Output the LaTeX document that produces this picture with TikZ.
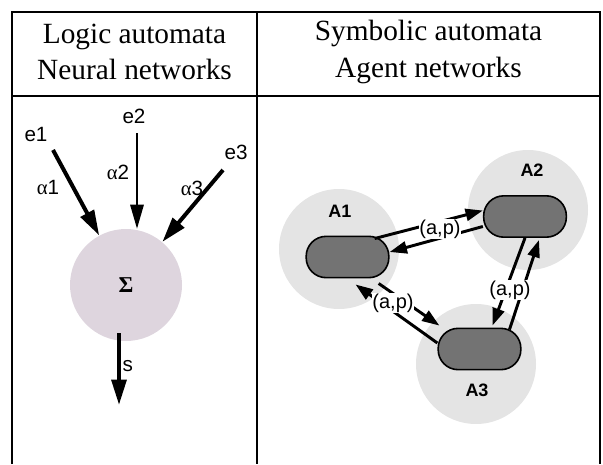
\documentclass[tikz,border=0pt]{standalone}
\usepackage{fontspec}
\setmainfont{Liberation Serif}
\setsansfont{Liberation Sans}
\usepackage{tikz}
\usetikzlibrary{arrows.meta,calc}

\definecolor{sumgray}{RGB}{222,213,222}
\definecolor{zonegray}{RGB}{228,228,228}
\definecolor{boxgray}{RGB}{115,115,115}

\begin{document}
\begin{tikzpicture}[x=0.75pt,y=0.75pt,yscale=-1,xscale=1,
    headtext/.style={font=\fontsize{22}{27.5}\selectfont, align=center},
    lab/.style={font=\sffamily\fontsize{15.5}{17}\selectfont, inner sep=1pt},
    agentlab/.style={font=\sffamily\bfseries\fontsize{13.5}{16}\selectfont, inner sep=1pt},
    msglab/.style={font=\sffamily\fontsize{15}{16}\selectfont, fill=white, inner sep=0.5pt},
    sumcircle/.style={circle, fill=sumgray, minimum size=84pt, inner sep=0pt, font=\bfseries\fontsize{17}{18}\selectfont},
    zone/.style={circle, fill=zonegray, minimum size=90pt, inner sep=0pt},
    agentbox/.style={draw, line width=1.2pt, fill=boxgray, rounded corners=15pt, minimum width=62pt, minimum height=31pt},
    bigarrow/.style={line width=3pt, -{Triangle[length=19pt,width=11pt]}},
    midarrow/.style={line width=1.5pt, -{Triangle[length=18pt,width=10pt]}},
    msgarrow/.style={line width=2.2pt, -{Triangle[length=13pt,width=9pt]}}]
  \useasboundingbox (0,0) rectangle (603,464);

  % table
  \draw[line width=1.5pt] (12,464) -- (12,12) -- (600,12) -- (600,464);
  \draw[line width=1.5pt] (12,96) -- (600,96);
  \draw[line width=1.5pt] (257,12) -- (257,464);
  \node[headtext] (hleft) at (134.5,52) {Logic automata\\Neural networks};
  \node[headtext] (hright) at (428.5,52) {Symbolic automata\\Agent networks};

  % neuron
  \node[sumcircle] (sum) at (126,285) {Σ};
  \node[lab] (e1) at (36,134) {e1};
  \node[lab] (e2) at (134,116) {e2};
  \node[lab] (e3) at (236,152) {e3};
  \coordinate (t1) at (53,150);
  \coordinate (t2) at (137,133);
  \coordinate (t3) at (223,170);
  \coordinate (out) at (119,405);
  \draw[bigarrow] (t1) -- (sum);
  \draw[midarrow] (t2) -- (t2 |- sum.north);
  \draw[bigarrow] (t3) -- (sum);
  \draw[bigarrow] ($(sum.south)+(-7,-8)$) -- (out);
  \node[lab] (w1) at (48,187) {{\rmfamily α}1};
  \node[lab] (w2) at (118,172) {{\rmfamily α}2};
  \node[lab] (w3) at (192,188) {{\rmfamily α}3};
  \node[lab, anchor=west] (s) at (121,366) {s};

  % agents
  \node[zone] (z1) at (339,249) {};
  \node[zone] (z2) at (528,210) {};
  \node[zone] (z3) at (476,364) {};
  \node[agentlab] (l1) at (340,211) {A1};
  \node[agentlab] (l2) at (532,170) {A2};
  \node[agentlab] (l3) at (477,390) {A3};
  \node[agentbox] (a1) at (347.5,257) {};
  \node[agentbox] (a2) at (525,216.5) {};
  \node[agentbox] (a3) at (479.5,349) {};

  \draw[msgarrow] ($(a1.north east)+(-15,3)$) -- ($(a2.west)+(0,-6)$);
  \draw[msgarrow] ($(a2.west)+(0,10)$) -- ($(a1.east)+(0,-5)$);
  \draw[msgarrow] ($(a1.south east)+(-11,5)$) -- ($(a3.north west)+(2,-2)$);
  \draw[msgarrow] ($(a3.west)+(0,-6)$) -- ($(a1.south)+(8,6)$);
  \draw[msgarrow] (a2.south) -- ($(a3.north)+(13,-2)$);
  \draw[msgarrow] ($(a3.north)+(30,2)$) -- ($(a2.south)+(14,2)$);
  \node[msglab] (m12) at (440,229) {(a,p)};
  \node[msglab] (m13) at (393,303) {(a,p)};
  \node[msglab] (m23) at (510,290) {(a,p)};
\end{tikzpicture}
\end{document}
